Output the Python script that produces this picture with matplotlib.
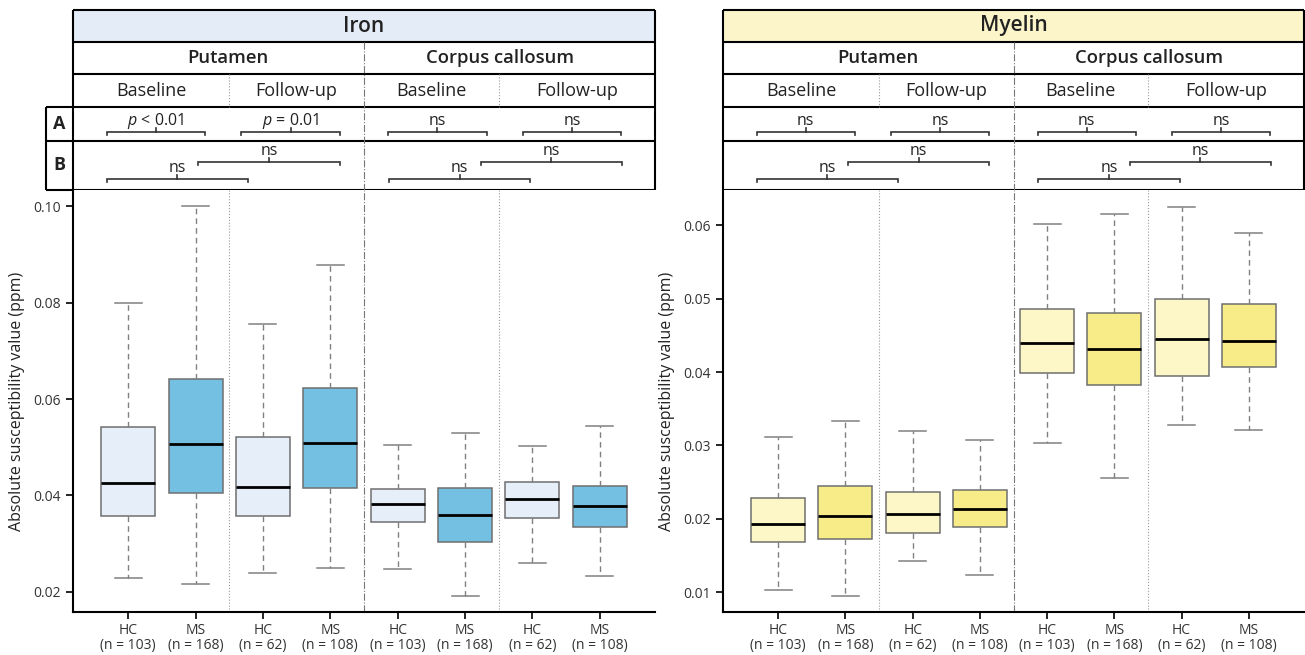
import matplotlib
matplotlib.use('Agg')
import matplotlib.pyplot as plt
from matplotlib.patches import Rectangle
import numpy as np

plt.rcParams['font.family'] = ['Open Sans', 'DejaVu Sans']
plt.rcParams['mathtext.fontset'] = 'custom'
plt.rcParams['mathtext.rm'] = 'Open Sans'
plt.rcParams['mathtext.it'] = 'Open Sans:italic'

# ---- data ----
groups = ['HC', 'MS', 'HC', 'MS', 'HC', 'MS', 'HC', 'MS']
n_counts = [103, 168, 62, 108, 103, 168, 62, 108]
regions = ['Putamen', 'Corpus callosum']
timepoints = ['Baseline', 'Follow-up', 'Baseline', 'Follow-up']

iron_whislo = [0.0228, 0.0216, 0.0239, 0.0250, 0.0248, 0.0191, 0.0260, 0.0233]
iron_q1 = [0.0357, 0.0405, 0.0358, 0.0415, 0.0344, 0.0304, 0.0354, 0.0335]
iron_med = [0.0425, 0.0507, 0.0417, 0.0509, 0.0382, 0.0359, 0.0393, 0.0379]
iron_q3 = [0.0541, 0.0642, 0.0521, 0.0623, 0.0414, 0.0415, 0.0428, 0.0419]
iron_whishi = [0.0800, 0.1001, 0.0756, 0.0879, 0.0505, 0.0530, 0.0502, 0.0545]

myelin_whislo = [0.0103, 0.0095, 0.0142, 0.0123, 0.0303, 0.0255, 0.0328, 0.0321]
myelin_q1 = [0.0168, 0.0173, 0.0180, 0.0189, 0.0399, 0.0382, 0.0395, 0.0407]
myelin_med = [0.0193, 0.0204, 0.0206, 0.0214, 0.0439, 0.0432, 0.0445, 0.0442]
myelin_q3 = [0.0229, 0.0245, 0.0237, 0.0239, 0.0486, 0.0480, 0.0499, 0.0493]
myelin_whishi = [0.0311, 0.0333, 0.0319, 0.0308, 0.0601, 0.0615, 0.0625, 0.0590]

iron_a_labels = ['$p$ < 0.01', '$p$ = 0.01', 'ns', 'ns']
iron_b_labels = ['ns', 'ns', 'ns', 'ns']
myelin_a_labels = ['ns', 'ns', 'ns', 'ns']
myelin_b_labels = ['ns', 'ns', 'ns', 'ns']

iron_ticks = [0.02, 0.04, 0.06, 0.08, 0.10]
myelin_ticks = [0.01, 0.02, 0.03, 0.04, 0.05, 0.06]

# ---- layout (pixels) ----
W, H = 1305, 655
POS = np.arange(1, 9)
XLIM = (0.18, 8.82)
ROWS = [10, 42, 74, 107, 141, 190]
PLOT_BOTTOM = 612
TXT = '#222222'


def bracket(ax, x1, x2, y, label):
    ax.plot([x1, x1, x2, x2], [y + 3, y, y, y + 3], color='#333333', lw=1.2,
            solid_joinstyle='miter', clip_on=False)
    xm = (x1 + x2) / 2
    ax.plot([xm, xm], [y, y - 4], color='#333333', lw=1.2, clip_on=False)
    ax.text(xm, y - 7, label, ha='center', va='baseline', fontsize=11.5, color=TXT)


def draw_panel(x0, width, title, title_fill, stats, colors, a_labels, b_labels,
               ylim, yticks, with_labels):
    # header table
    hx = fig.add_axes([x0 / W, 1 - ROWS[-1] / H, width / W, (ROWS[-1] - ROWS[0]) / H])
    hx.set_xlim(*XLIM)
    hx.set_ylim(ROWS[-1], ROWS[0])
    hx.axis('off')
    hx.add_patch(Rectangle((XLIM[0], ROWS[0]), XLIM[1] - XLIM[0], ROWS[1] - ROWS[0],
                           facecolor=title_fill, edgecolor='none'))
    hx.hlines(ROWS, XLIM[0], XLIM[1], color='black', lw=1.5, clip_on=False)
    hx.vlines([XLIM[0], XLIM[1]], ROWS[0], ROWS[-1], color='black', lw=1.5, clip_on=False)
    hx.vlines(4.5, ROWS[1], ROWS[-1], color='#777777', lw=0.8, linestyles='dashdot')
    hx.vlines([2.5, 6.5], ROWS[2], ROWS[3], color='#999999', lw=0.8, linestyles=':')

    hx.text(4.5, (ROWS[0] + ROWS[1]) / 2, title, ha='center', va='center',
            fontsize=15, fontweight='semibold', color=TXT)
    for xc, name in zip([2.48, 6.52], regions):
        hx.text(xc, (ROWS[1] + ROWS[2]) / 2, name, ha='center', va='center',
                fontsize=13.3, fontweight='semibold', color=TXT)
    col_edges = [XLIM[0], 2.5, 4.5, 6.5, XLIM[1]]
    for i, name in enumerate(timepoints):
        xc = (col_edges[i] + col_edges[i + 1]) / 2
        hx.text(xc, (ROWS[2] + ROWS[3]) / 2 + 1, name, ha='center', va='center',
                fontsize=13, color=TXT)

    # row A: HC vs MS within each time point
    for i, lab in enumerate(a_labels):
        shift = -0.09 if i < 2 else 0.09
        xm = (POS[2 * i] + POS[2 * i + 1]) / 2 + shift
        bracket(hx, xm - 0.73, xm + 0.73, 132, lab)

    # row B: baseline vs follow-up within each group
    b_pairs = [(0, 2, -0.27, 179), (1, 3, 0.09, 162), (4, 6, -0.08, 179), (5, 7, 0.28, 162)]
    for (i, j, shift, y), lab in zip(b_pairs, b_labels):
        xm = (POS[i] + POS[j]) / 2 + shift
        bracket(hx, xm - 1.05, xm + 1.05, y, lab)

    if with_labels:
        lx = fig.add_axes([46 / W, 1 - ROWS[-1] / H, (x0 - 46) / W, (ROWS[-1] - ROWS[3]) / H])
        lx.set_xlim(0, 1)
        lx.set_ylim(ROWS[-1], ROWS[3])
        lx.axis('off')
        lx.hlines(ROWS[3:], 0, 1, color='black', lw=1.5, clip_on=False)
        lx.vlines(0, ROWS[3], ROWS[-1], color='black', lw=1.5, clip_on=False)
        lx.text(0.5, (ROWS[3] + ROWS[4]) / 2, 'A', ha='center', va='center',
                fontsize=13, fontweight='bold', color=TXT)
        lx.text(0.5, (ROWS[4] + ROWS[5]) / 2, 'B', ha='center', va='center',
                fontsize=13, fontweight='bold', color=TXT)

    # box plot
    ax = fig.add_axes([x0 / W, 1 - PLOT_BOTTOM / H, width / W, (PLOT_BOTTOM - ROWS[-1]) / H])
    bp = ax.bxp(stats, positions=POS, widths=0.8, capwidths=0.4, patch_artist=True,
                showfliers=False,
                boxprops=dict(edgecolor='#6f6f6f', linewidth=1.1),
                medianprops=dict(color='black', linewidth=2),
                whiskerprops=dict(color='#808080', linewidth=1, linestyle=(0, (4, 3))),
                capprops=dict(color='#808080', linewidth=1.1))
    for patch, c in zip(bp['boxes'], colors):
        patch.set_facecolor(c)
    ax.axvline(2.5, color='#999999', lw=0.8, ls=':', zorder=0)
    ax.axvline(6.5, color='#999999', lw=0.8, ls=':', zorder=0)
    ax.axvline(4.5, color='#777777', lw=0.8, ls='dashdot', zorder=0)

    ax.set_xlim(*XLIM)
    ax.set_ylim(*ylim)
    ax.set_yticks(yticks)
    ax.set_yticklabels([f'{t:.2f}' for t in yticks])
    ax.set_xticks(POS)
    ax.set_xticklabels([f'{g}\n(n = {n})' for g, n in zip(groups, n_counts)],
                       linespacing=1.0)
    ax.tick_params(axis='both', labelsize=10, colors='black', labelcolor='#333333',
                   length=5, width=1.2)
    ax.tick_params(axis='x', pad=3)
    for s in ['top', 'right']:
        ax.spines[s].set_visible(False)
    for s in ['left', 'bottom']:
        ax.spines[s].set_linewidth(1.5)
    ax.set_ylabel('Absolute susceptibility value (ppm)', fontsize=11.5, color=TXT, labelpad=6)
    return ax


def make_stats(lo, q1, med, q3, hi):
    return [dict(whislo=a, q1=b, med=c, q3=d, whishi=e)
            for a, b, c, d, e in zip(lo, q1, med, q3, hi)]


fig = plt.figure(figsize=(W / 100, H / 100), dpi=100)

iron_stats = make_stats(iron_whislo, iron_q1, iron_med, iron_q3, iron_whishi)
myelin_stats = make_stats(myelin_whislo, myelin_q1, myelin_med, myelin_q3, myelin_whishi)

iron_colors = ['#e5eef9', '#74c0e3'] * 4
myelin_colors = ['#fdf6c6', '#f8ec88'] * 4

draw_panel(73, 582, 'Iron', '#e4ecf8', iron_stats, iron_colors, iron_a_labels,
           iron_b_labels, (0.0158, 0.1034), iron_ticks, True)
draw_panel(723, 581, 'Myelin', '#fbf5c9', myelin_stats, myelin_colors, myelin_a_labels,
           myelin_b_labels, (0.0073, 0.0648), myelin_ticks, False)

fig.savefig('out.png', dpi=100)
